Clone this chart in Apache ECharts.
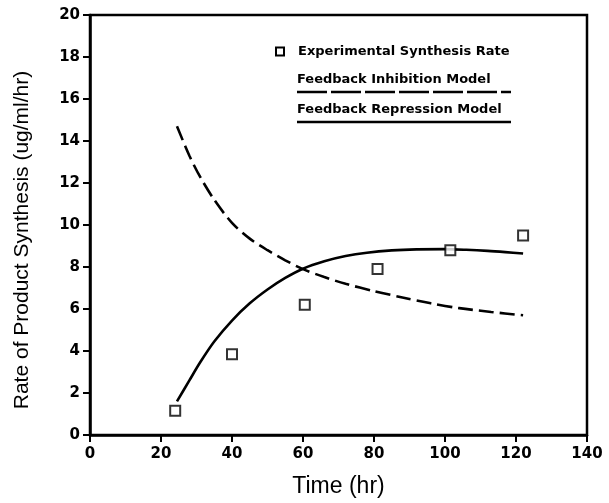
<!DOCTYPE html>
<html>
<head>
<meta charset="utf-8">
<script src="https://cdn.jsdelivr.net/npm/echarts@6/dist/echarts.min.js"></script>
<style>html,body{margin:0;padding:0;background:#fff}#c{width:609px;height:503px}</style>
</head>
<body>
<div id="c"></div>
<script>
// Experimental data (time hr, rate ug/ml/hr)
var expTime = [24, 40, 60.5, 81, 101.5, 122];
var expRate = [1.15, 3.85, 6.2, 7.9, 8.8, 9.5];
// Feedback Inhibition Model (dashed)
var inhTime = [24.5, 28, 31, 35, 40, 45, 50, 55, 60, 66, 72, 80, 88, 96, 104, 113, 122];
var inhRate = [14.7, 13.3, 12.3, 11.2, 10.1, 9.35, 8.8, 8.32, 7.9, 7.52, 7.2, 6.85, 6.55, 6.27, 6.04, 5.86, 5.7];
// Feedback Repression Model (solid)
var repTime = [24.5, 28, 31, 35, 40, 45, 50, 55, 60, 66, 72, 78, 85, 92, 100, 106, 112, 117, 122];
var repRate = [1.6, 2.6, 3.45, 4.45, 5.45, 6.27, 6.93, 7.48, 7.92, 8.27, 8.52, 8.68, 8.79, 8.84, 8.85, 8.82, 8.77, 8.71, 8.64];
var xTicks = [0, 20, 40, 60, 80, 100, 120, 140];
var yTicks = [0, 2, 4, 6, 8, 10, 12, 14, 16, 18, 20];
var yTitle = 'Rate of Product Synthesis (ug/ml/hr)';
var xTitle = 'Time (hr)';
var legendNames = ['Experimental Synthesis Rate', 'Feedback Inhibition Model', 'Feedback Repression Model'];

function zip(a, b) { return a.map(function (v, i) { return [v, b[i]]; }); }

var tickFont = { color: '#000', fontFamily: 'DejaVu Sans', fontWeight: 'bold', fontSize: 15 };
var legFont = 'bold 13px "DejaVu Sans"';
var chart = echarts.init(document.getElementById('c'));
chart.setOption({
  animation: false,
  backgroundColor: '#fff',
  grid: { left: 90, right: 22, top: 15, bottom: 67, show: true, borderColor: '#000', borderWidth: 2.5, backgroundColor: 'transparent' },
  xAxis: {
    type: 'value', min: xTicks[0], max: xTicks[xTicks.length - 1], interval: 20,
    name: xTitle, nameLocation: 'middle', nameGap: 40,
    nameTextStyle: { color: '#000', fontFamily: 'Liberation Sans', fontSize: 23 },
    axisLine: { lineStyle: { color: '#000', width: 2.5 } },
    axisTick: { inside: false, length: 7, lineStyle: { color: '#000', width: 2 } },
    axisLabel: Object.assign({ margin: 12 }, tickFont),
    splitLine: { show: false }
  },
  yAxis: {
    type: 'value', min: yTicks[0], max: yTicks[yTicks.length - 1], interval: 2,
    axisLine: { lineStyle: { color: '#000', width: 2.5 } },
    axisTick: { inside: false, length: 7, lineStyle: { color: '#000', width: 2 } },
    axisLabel: Object.assign({ margin: 10 }, tickFont),
    splitLine: { show: false }
  },
  series: [
    {
      name: legendNames[1], type: 'line', data: zip(inhTime, inhRate), smooth: 0.3,
      symbol: 'none', lineStyle: { color: '#000', width: 2.6, type: [15, 6] }, z: 2
    },
    {
      name: legendNames[2], type: 'line', data: zip(repTime, repRate), smooth: 0.3,
      symbol: 'none', lineStyle: { color: '#000', width: 2.6, type: 'solid' }, z: 2
    },
    {
      name: legendNames[0], type: 'scatter', data: zip(expTime, expRate),
      symbol: 'rect', symbolSize: 10,
      itemStyle: { color: '#fff', borderColor: '#000', borderWidth: 2 }, z: 3
    }
  ],
  graphic: [
    { type: 'text', x: 22, y: 240, rotation: Math.PI / 2,
      style: { text: yTitle, font: '21px "Liberation Sans"', fill: '#000', textAlign: 'center', textVerticalAlign: 'middle' } },
    { type: 'rect', shape: { x: 276, y: 47.5, width: 8, height: 8 }, style: { fill: '#fff', stroke: '#000', lineWidth: 2 } },
    { type: 'text', left: 298, top: 45, style: { text: legendNames[0], font: legFont, fill: '#000' } },
    { type: 'text', left: 297, top: 73, style: { text: legendNames[1], font: legFont, fill: '#000' } },
    { type: 'line', shape: { x1: 297, y1: 92, x2: 511, y2: 92 }, style: { stroke: '#000', lineWidth: 2.5, lineDash: [30, 4] } },
    { type: 'text', left: 297, top: 103, style: { text: legendNames[2], font: legFont, fill: '#000' } },
    { type: 'line', shape: { x1: 297, y1: 122, x2: 511, y2: 122 }, style: { stroke: '#000', lineWidth: 2.5 } }
  ]
});
</script>
</body>
</html>
